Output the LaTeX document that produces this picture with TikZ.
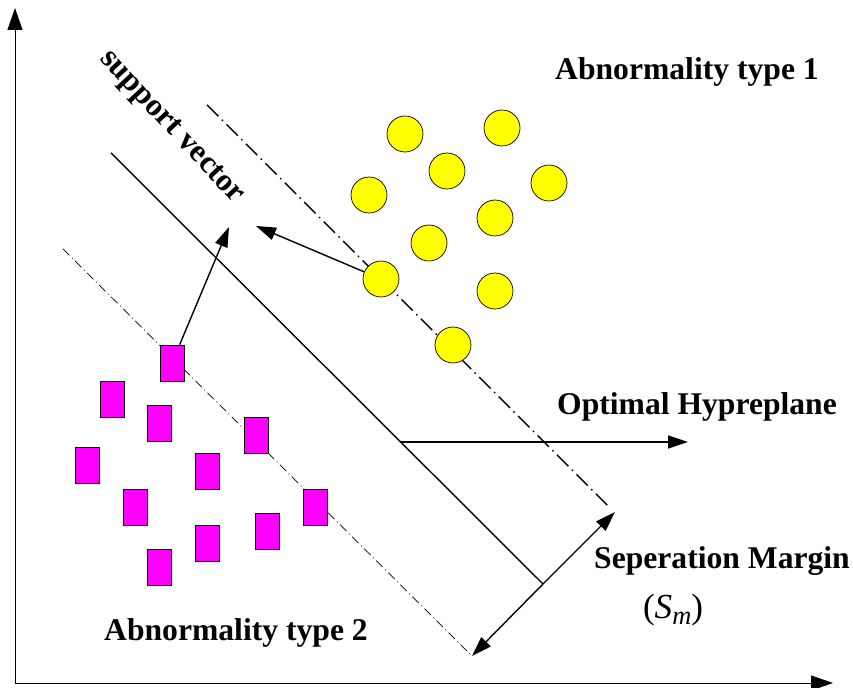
\documentclass[tikz,border=0pt]{standalone}
\usepackage{fontspec}
\setmainfont{Liberation Serif}
\usetikzlibrary{arrows.meta}
\definecolor{abnA}{RGB}{255,255,0}
\definecolor{abnB}{RGB}{255,0,255}

\begin{document}
\begin{tikzpicture}[x=0.02cm,y=-0.02cm,
        lbl/.style={font=\fontsize{18}{20}\selectfont\bfseries},
        classA/.style={circle,draw,fill=abnA,minimum size=0.72cm,inner sep=0pt},
        classB/.style={rectangle,draw,fill=abnB,minimum width=0.48cm,minimum height=0.72cm,inner sep=0pt},
        tip/.style={-{Triangle[length=0.4cm,width=0.26cm]},line width=0.8pt}]
            \useasboundingbox (0,0) rectangle (853,688);
            % axes
            \coordinate (ytop) at (15,8);
            \coordinate (orig) at (15,683);
            \coordinate (xend) at (833,683);
            \draw[{Triangle[length=0.44cm,width=0.3cm]}-{Triangle[length=0.44cm,width=0.3cm]},line width=0.5pt] (ytop) -- (orig) -- (xend);
            % hyperplane and margins
            \coordinate (h1) at (111,153);
            \coordinate (h2) at (543,584);
            \coordinate (u1) at (207,105);
            \coordinate (u2) at (610,508);
            \coordinate (l1) at (63,249);
            \coordinate (l2) at (472,656);
            \draw[line width=0.8pt] (h1) -- (h2);
            \draw[line width=0.8pt,dash pattern=on 0.32cm off 0.1cm on 0.03cm off 0.1cm] (u1) -- (u2);
            \draw[line width=0.4pt,dash pattern=on 0.18cm off 0.07cm on 0.02cm off 0.07cm] (l1) -- (l2);
            % abnormality type 1
            \node[classA] (c1) at (405,134) {};
            \node[classA] (c2) at (502,128) {};
            \node[classA] (c3) at (447,171) {};
            \node[classA] (c4) at (369,195) {};
            \node[classA] (c5) at (549,183) {};
            \node[classA] (c6) at (495,218) {};
            \node[classA] (c7) at (429,243) {};
            \node[classA] (c8) at (381,279) {};
            \node[classA] (c9) at (495,291) {};
            \node[classA] (c10) at (453,345) {};
            % abnormality type 2
            \node[classB] (s1) at (172,363) {};
            \node[classB] (s2) at (112,399) {};
            \node[classB] (s3) at (159,423) {};
            \node[classB] (s4) at (87,465) {};
            \node[classB] (s5) at (207,471) {};
            \node[classB] (s6) at (256,435) {};
            \node[classB] (s7) at (135,507) {};
            \node[classB] (s8) at (315,507) {};
            \node[classB] (s9) at (267,531) {};
            \node[classB] (s10) at (207,543) {};
            \node[classB] (s11) at (159,567) {};
            % labels
            \node[lbl] (typeA) at (687,72) {Abnormality type 1};
            \node[lbl] (typeB) at (236,633) {Abnormality type 2};
            \node[lbl,rotate=-47] (sv) at (171,128) {support vector};
            \node[lbl] (opt) at (697,407) {Optimal Hypreplane};
            \node[lbl] (sep) at (722,561) {Seperation Margin};
            \node[font=\fontsize{20}{22}\selectfont] (sm) at (673,610) {(\textit{S}\raisebox{-0.35ex}{\fontsize{15}{16}\selectfont\textit{m}})};
            % arrows
            \coordinate (svA) at (229,227);
            \coordinate (svB) at (256,226);
            \coordinate (hp) at (400,442);
            \coordinate (hpend) at (688,442);
            \coordinate (m2) at (615,512);
            \draw[tip] (s1) -- (svA);
            \draw[tip] (c8) -- (svB);
            \draw[tip] (hp) -- (hpend);
            \draw[tip] (h2) -- (m2);
            \draw[tip] (h2) -- (l2);
        \end{tikzpicture}
\end{document}
